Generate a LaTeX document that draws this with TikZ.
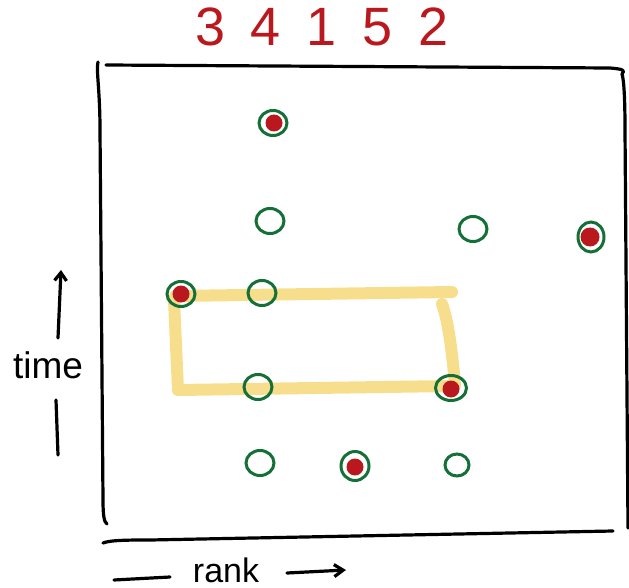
\documentclass[tikz,border=0pt]{standalone}
\usepackage{fontspec}
\setmainfont{Liberation Sans}
\newfontfamily\titlefont[LetterSpace=48]{Liberation Sans}
\usetikzlibrary{arrows.meta,shapes.geometric}
\definecolor{inkred}{RGB}{185,25,30}
\definecolor{inkgreen}{RGB}{20,112,55}
\definecolor{hilite}{RGB}{247,222,140}
\tikzset{
  ink/.style={line width=3.2pt, line cap=round, line join=round, black},
  ring/.style={draw=inkgreen, line width=3pt, ellipse, minimum width=28pt, minimum height=25pt, inner sep=0pt},
  dot/.style={fill=inkred, circle, minimum size=17pt, inner sep=0pt},
  hl/.style={hilite, line width=12pt, line cap=round, line join=round}
}
\begin{document}
\begin{tikzpicture}[x=1pt,y=-1pt]
\useasboundingbox (0,0) rectangle (629,588);
% title
\node[text=inkred, font=\titlefont\fontsize{54}{54}\selectfont] (title) at (322,27) {34152};
% frame
\draw[ink] (98,62) .. controls (96,70) and (100,90) .. (100,130) -- (103,500) .. controls (103,515) and (104,522) .. (107,524);
\draw[ink] (106,65) -- (610,68) .. controls (622,69) and (626,70) .. (622,74) .. controls (624,80) and (625,100) .. (625,130) -- (628,528);
\draw[ink] (103,543) .. controls (110,540) and (130,540) .. (150,540) -- (613,531);
% highlight rectangle
\draw[hl] (175,296) -- (452,292);
\draw[hl] (442,304) .. controls (448,320) and (452,350) .. (455,385);
\draw[hl] (452,386) -- (178,390) -- (174,300);
% circles
\node[ring] (a) at (273,123) {};
\node[dot] at (274,123) {};
\node[ring] (b) at (270,221) {};
\node[ring] (c) at (473,229) {};
\node[ring, minimum width=26pt, minimum height=30pt] (d) at (591,237) {};
\node[dot, minimum size=19pt] at (590,237) {};
\node[ring] (e) at (181,294) {};
\node[dot] at (181,294) {};
\node[ring] (f) at (262,293) {};
\node[ring] (g) at (258,387) {};
\node[ring, minimum width=31pt] (h) at (451,388) {};
\node[dot] at (451,389) {};
\node[ring] (i) at (260,463) {};
\node[ring, minimum height=29pt] (j) at (355,466) {};
\node[dot] at (355,467) {};
\node[ring, minimum width=24pt, minimum height=22pt] (k) at (457,465) {};
% time axis
\node[font=\fontsize{37}{37}\selectfont, anchor=base, inner sep=0pt] (time) at (48,378) {time};
\coordinate (tu0) at (58,338);
\coordinate (tu1) at (61,270);
\draw[ink, -{Straight Barb[length=8pt,width=12pt]}] (tu0) -- (tu1);
\coordinate (td0) at (56,400);
\coordinate (td1) at (58,455);
\draw[ink] (td0) -- (td1);
% rank axis
\node[font=\fontsize{34}{34}\selectfont, anchor=base, inner sep=0pt] (rank) at (226,582) {rank};
\coordinate (r0) at (114,580);
\coordinate (r1) at (170,577);
\draw[ink] (r0) -- (r1);
\coordinate (r2) at (287,573);
\coordinate (r3) at (346,570);
\draw[ink, -{Straight Barb[length=9pt,width=12pt]}] (r2) -- (r3);
\end{tikzpicture}
\end{document}
